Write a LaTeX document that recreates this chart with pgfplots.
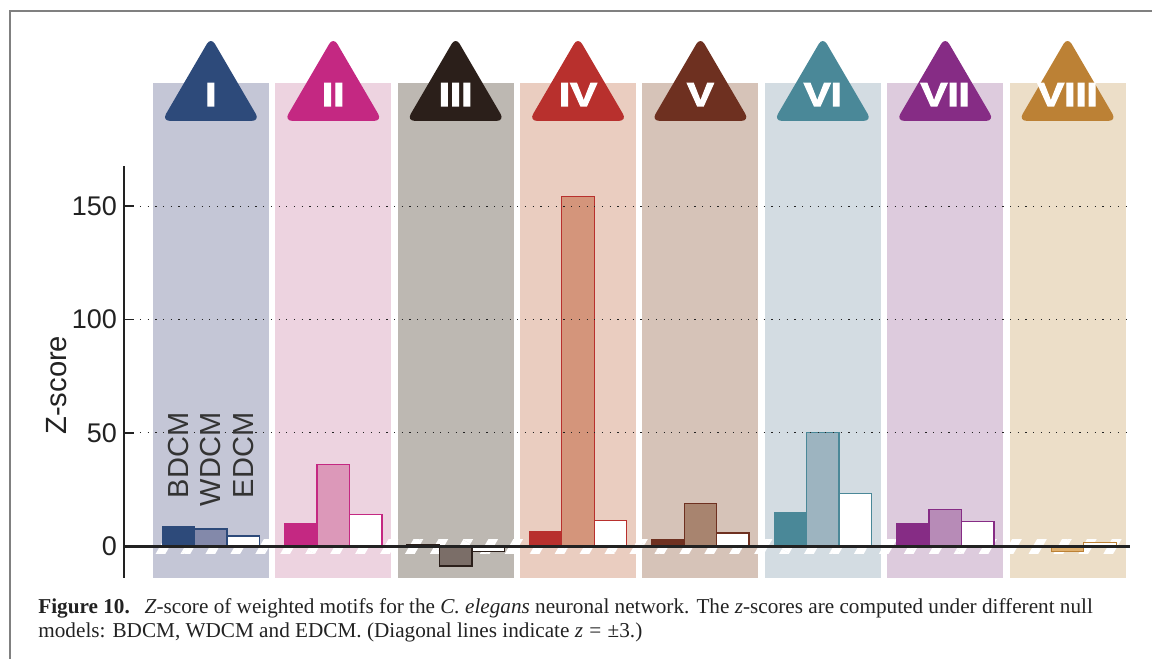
\documentclass[border=0pt]{standalone}
\usepackage{fontspec}
\setmainfont{Liberation Sans}
\newfontfamily\capfont{Liberation Serif}
\newfontfamily\heavyfont[FakeBold=3.5,FakeStretch=1.22]{Liberation Sans}
\usepackage{pgfplots}
\pgfplotsset{compat=1.18}
\usetikzlibrary{patterns.meta}

\definecolor{dI}{HTML}{2D4A7A}\definecolor{mI}{HTML}{8389AA}\definecolor{pI}{HTML}{C4C6D6}
\definecolor{dII}{HTML}{C42882}\definecolor{mII}{HTML}{DC98B9}\definecolor{pII}{HTML}{EDD3E0}
\definecolor{dIII}{HTML}{2B1F1A}\definecolor{mIII}{HTML}{7B6E68}\definecolor{pIII}{HTML}{BDB8B2}
\definecolor{dIV}{HTML}{B8302D}\definecolor{mIV}{HTML}{D4957B}\definecolor{pIV}{HTML}{EACDC0}
\definecolor{dV}{HTML}{6E3020}\definecolor{mV}{HTML}{A8846F}\definecolor{pV}{HTML}{D6C3B8}
\definecolor{dVI}{HTML}{4A8898}\definecolor{mVI}{HTML}{9DB4C0}\definecolor{pVI}{HTML}{D3DCE2}
\definecolor{dVII}{HTML}{862C85}\definecolor{mVII}{HTML}{B78BB7}\definecolor{pVII}{HTML}{DDCBDD}
\definecolor{dVIII}{HTML}{BC8135}\definecolor{mVIII}{HTML}{E0B06E}\definecolor{pVIII}{HTML}{ECDEC8}
\definecolor{ink}{HTML}{222222}

\pgfplotsset{
  zbar/.style={ybar, bar width=0.265, bar shift=0pt, line width=0.65pt},
}
\tikzset{
  numeral/.style={text=white, font=\heavyfont\bfseries\fontsize{16.5}{16.5}\selectfont, inner sep=0pt},
  vlab/.style={rotate=90, anchor=east, font=\fontsize{14.5}{16}\selectfont, text=black!80, inner sep=0pt},
  gridl/.style={ink, line width=0.6pt, dash pattern=on 0.6pt off 3.25pt},
  tri/.style={rounded corners=4pt},
}

\begin{document}
\begin{tikzpicture}
\useasboundingbox (0,0) rectangle (576pt,329.5pt);
\draw[color=black!50, line width=0.6pt] (576pt,324pt) -- (5pt,324pt) -- (5pt,0pt);
\node[anchor=base west, font=\capfont\fontsize{10.6}{12}\selectfont, text=ink, inner sep=0pt] at (19pt,22.5pt)
 {\textbf{Figure 10.}\hspace{0.7em}\textit{Z}-score of weighted motifs for the \textit{C. elegans} neuronal network. The \textit{z}-scores are computed under different null};
\node[anchor=base west, font=\capfont\fontsize{10.6}{12}\selectfont, text=ink, inner sep=0pt] at (19pt,10.5pt)
 {models: BDCM, WDCM and EDCM. (Diagonal lines indicate \textit{z}\hspace{0.3em}=\hspace{0.3em}±3.)};

\begin{axis}[
  at={(62pt,40.5pt)}, anchor=south west,
  scale only axis, width=503pt, height=206pt,
  xmin=-0.71, xmax=7.51, ymin=-14, ymax=167.7,
  clip=false,
  axis x line=none,
  axis y line*=left,
  y axis line style={line width=0.8pt, color=ink},
  ytick={0,50,100,150},
  tick align=inside,
  major tick length=5pt,
  tick style={line width=0.8pt, color=ink},
  yticklabel style={font=\fontsize{13.5}{16}\selectfont, text=ink},
  /pgf/number format/assume math mode=true,
]
% panels
\fill[pI]    (axis cs:-0.4735,-14) rectangle (axis cs:0.4735,204.3);
\fill[pII]   (axis cs:0.5265,-14) rectangle (axis cs:1.4735,204.3);
\fill[pIII]  (axis cs:1.5265,-14) rectangle (axis cs:2.4735,204.3);
\fill[pIV]   (axis cs:2.5265,-14) rectangle (axis cs:3.4735,204.3);
\fill[pV]    (axis cs:3.5265,-14) rectangle (axis cs:4.4735,204.3);
\fill[pVI]   (axis cs:4.5265,-14) rectangle (axis cs:5.4735,204.3);
\fill[pVII]  (axis cs:5.5265,-14) rectangle (axis cs:6.4735,204.3);
\fill[pVIII] (axis cs:6.5265,-14) rectangle (axis cs:7.4735,204.3);
% z = +-3 band
\fill[pattern={Lines[angle=60,distance=10.8pt,line width=4.2pt]}, pattern color=white]
  (axis cs:-0.4735,-3) rectangle (axis cs:7.4735,3);
% triangles
\fill[dI,    tri] (axis cs:0,224.6) -- (axis cs:0.40,187.6) -- (axis cs:-0.40,187.6) -- cycle;
\fill[dII,   tri] (axis cs:1,224.6) -- (axis cs:1.40,187.6) -- (axis cs:0.60,187.6) -- cycle;
\fill[dIII,  tri] (axis cs:2,224.6) -- (axis cs:2.40,187.6) -- (axis cs:1.60,187.6) -- cycle;
\fill[dIV,   tri] (axis cs:3,224.6) -- (axis cs:3.40,187.6) -- (axis cs:2.60,187.6) -- cycle;
\fill[dV,    tri] (axis cs:4,224.6) -- (axis cs:4.40,187.6) -- (axis cs:3.60,187.6) -- cycle;
\fill[dVI,   tri] (axis cs:5,224.6) -- (axis cs:5.40,187.6) -- (axis cs:4.60,187.6) -- cycle;
\fill[dVII,  tri] (axis cs:6,224.6) -- (axis cs:6.40,187.6) -- (axis cs:5.60,187.6) -- cycle;
\fill[dVIII, tri] (axis cs:7,224.6) -- (axis cs:7.40,187.6) -- (axis cs:6.60,187.6) -- cycle;
\node[numeral] at (axis cs:0,199.2) {I};
\node[numeral] at (axis cs:1,199.2) {II};
\node[numeral] at (axis cs:2,199.2) {III};
\node[numeral] at (axis cs:3,199.2) {IV};
\node[numeral] at (axis cs:4,199.2) {V};
\node[numeral] at (axis cs:5,199.2) {VI};
\node[numeral] at (axis cs:6,199.2) {VII};
\node[numeral] at (axis cs:7,199.2) {VIII};
% bars: I
\addplot[zbar, fill=dI, draw=dI] coordinates {(-0.265,8.5)};
\addplot[zbar, fill=mI, draw=dI] coordinates {(0,7.6)};
\addplot[zbar, fill=white, draw=dI] coordinates {(0.265,4.5)};
% II
\addplot[zbar, fill=dII, draw=dII] coordinates {(0.735,10)};
\addplot[zbar, fill=mII, draw=dII] coordinates {(1,36.2)};
\addplot[zbar, fill=white, draw=dII] coordinates {(1.265,14)};
% III
\addplot[zbar, fill=dIII, draw=dIII] coordinates {(1.735,0.7)};
\addplot[zbar, fill=mIII, draw=dIII] coordinates {(2,-8.7)};
\addplot[zbar, fill=white, draw=dIII] coordinates {(2.265,-2.2)};
% IV
\addplot[zbar, fill=dIV, draw=dIV] coordinates {(2.735,6.3)};
\addplot[zbar, fill=mIV, draw=dIV] coordinates {(3,154.1)};
\addplot[zbar, fill=white, draw=dIV] coordinates {(3.265,11.5)};
% V
\addplot[zbar, fill=dV, draw=dV] coordinates {(3.735,3.1)};
\addplot[zbar, fill=mV, draw=dV] coordinates {(4,19)};
\addplot[zbar, fill=white, draw=dV] coordinates {(4.265,5.9)};
% VI
\addplot[zbar, fill=dVI, draw=dVI] coordinates {(4.735,15)};
\addplot[zbar, fill=mVI, draw=dVI] coordinates {(5,50.3)};
\addplot[zbar, fill=white, draw=dVI] coordinates {(5.265,23.4)};
% VII
\addplot[zbar, fill=dVII, draw=dVII] coordinates {(5.735,10.1)};
\addplot[zbar, fill=mVII, draw=dVII] coordinates {(6,16.2)};
\addplot[zbar, fill=white, draw=dVII] coordinates {(6.265,11)};
% VIII
\addplot[zbar, fill=dVIII, draw=dVIII] coordinates {(6.735,0)};
\addplot[zbar, fill=mVIII, draw=dVIII] coordinates {(7,-2.2)};
\addplot[zbar, fill=white, draw=dVIII] coordinates {(7.265,1.6)};
% grid lines and zero line
\draw[gridl] (axis cs:-0.58,50) -- (axis cs:7.51,50);
\draw[gridl] (axis cs:-0.58,100) -- (axis cs:7.51,100);
\draw[gridl] (axis cs:-0.58,150) -- (axis cs:7.51,150);
\draw[ink, line width=1.3pt] (axis cs:-0.71,0) -- (axis cs:7.51,0);
% labels
\node[rotate=90, font=\fontsize{14.6}{16}\selectfont, text=ink] at (axis cs:-1.257,71) {Z-score};
\node[vlab] at (axis cs:-0.265,59.1) {BDCM};
\node[vlab] at (axis cs:0,59.1) {WDCM};
\node[vlab] at (axis cs:0.265,59.1) {EDCM};
\end{axis}
\end{tikzpicture}
\end{document}
